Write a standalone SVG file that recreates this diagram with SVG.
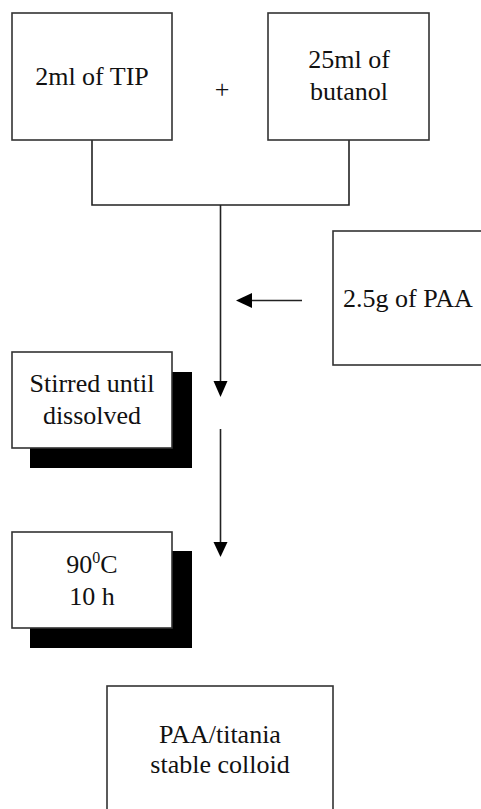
<svg xmlns="http://www.w3.org/2000/svg" width="481" height="809" viewBox="0 0 481 809">
<defs>
<style>
.box{fill:#fff;stroke:#333;stroke-width:1.6}
.sh{fill:#000}
.ln{fill:none;stroke:#222;stroke-width:1.6}
</style>
</defs>
<rect width="481" height="809" fill="#fff"/>
<g id="connectors">
<polyline class="ln" points="92,140 92,205 349,205 349,140"/>
<line class="ln" x1="220.5" y1="205" x2="220.5" y2="382"/>
<path d="M213.5,381 L227.5,381 L220.5,397 Z" fill="#000"/>
<line class="ln" x1="220.5" y1="429" x2="220.5" y2="542"/>
<path d="M213.5,542 L227.5,542 L220.5,557 Z" fill="#000"/>
<line class="ln" x1="302" y1="300.5" x2="250" y2="300.5"/>
<path d="M252,293 L252,308 L236,300.5 Z" fill="#000"/>
</g>
<g font-family="'Liberation Serif', 'Times New Roman', serif" font-size="26" fill="#111" text-anchor="middle">
<g id="tip">
<rect class="box" x="12" y="13" width="160" height="127"/>
<text x="92" y="85">2ml of TIP</text>
</g>
<text x="222" y="98" id="plus">+</text>
<g id="butanol">
<rect class="box" x="268" y="13" width="161" height="127"/>
<text x="349" y="68">25ml of</text>
<text x="349" y="100">butanol</text>
</g>
<g id="paa">
<rect class="box" x="333" y="231" width="160" height="134"/>
<text x="343" y="307" text-anchor="start">2.5g of PAA</text>
</g>
<g id="stirred">
<rect class="sh" x="30" y="372" width="162" height="96"/>
<rect class="box" x="12" y="352" width="160" height="96"/>
<text x="92" y="392">Stirred until</text>
<text x="92" y="424">dissolved</text>
</g>
<g id="heat">
<rect class="sh" x="30" y="551" width="162" height="97"/>
<rect class="box" x="12" y="532" width="160" height="96"/>
<text x="92" y="573">90<tspan font-size="16" dy="-10">0</tspan><tspan dy="10">C</tspan></text>
<text x="92" y="605">10 h</text>
</g>
<g id="colloid">
<rect class="box" x="107" y="686" width="226" height="140"/>
<text x="220" y="743">PAA/titania</text>
<text x="220" y="773">stable colloid</text>
</g>
</g>
</svg>
